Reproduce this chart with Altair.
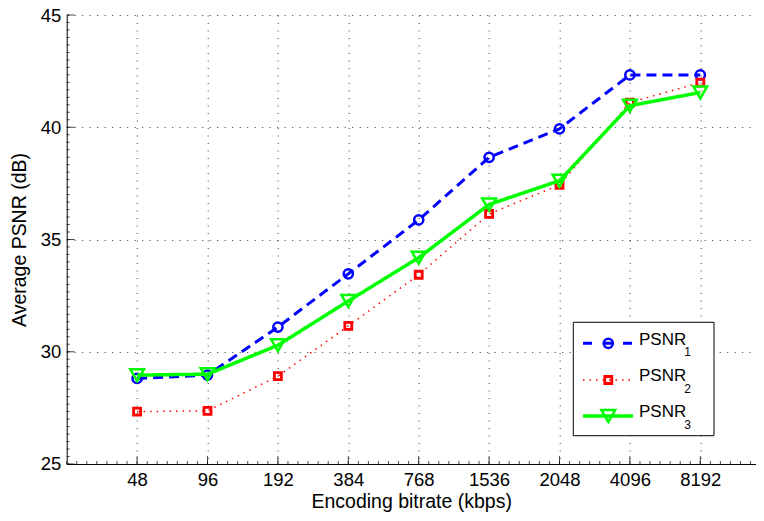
import json
import altair as alt
import pandas as pd

# ---- data ----
bitrates = ["48", "96", "192", "384", "768", "1536", "2048", "4096", "8192"]
psnr1 = [28.81, 28.96, 31.10, 33.47, 35.87, 38.66, 39.93, 42.33, 42.33]
psnr2 = [27.33, 27.37, 28.91, 31.15, 33.43, 36.14, 37.43, 41.10, 41.99]
psnr3 = [28.96, 29.00, 30.29, 32.26, 34.19, 36.56, 37.62, 40.96, 41.55]
series_names = ["PSNR", "PSNR", "PSNR"]
series_subs = ["1", "2", "3"]
y_major = [25, 30, 35, 40, 45]

FONT = "Liberation Sans"
PAD_L, PAD_T = 58.7, 7
W, H = 689, 449
XMAX = W / 70.4

idx = list(range(1, len(bitrates) + 1))

x_scale = alt.Scale(domain=[0, XMAX], nice=False, zero=False)
y_scale = alt.Scale(domain=[25, 45], nice=False, zero=False)

label_expr = json.dumps(bitrates) + "[datum.value - 1]"

x_axis = alt.Axis(values=idx, labelExpr=label_expr, title="Encoding bitrate (kbps)",
                  grid=True, ticks=False, tickSize=0, labelPadding=7,
                  labelFontSize=18.5, titleFontSize=19.5,
                  titleY=43.5, titleBaseline="alphabetic")
y_axis = alt.Axis(values=y_major, title="Average PSNR (dB)", grid=True, ticks=False,
                  tickSize=0, labelPadding=6, titlePadding=11,
                  labelFontSize=18.5, titleFontSize=19.5)


def xenc(field):
    return alt.X(field, type="quantitative", scale=x_scale, axis=x_axis)


def yenc(field):
    return alt.Y(field, type="quantitative", scale=y_scale, axis=y_axis)


styles = [
    dict(values=psnr1, color="#0000FF", dash=[10, 6], width=3, shape="circle", size=85,
         sw=2.5, legdash=[9, 11]),
    dict(values=psnr2, color="#FF0000", dash=[1.5, 5], width=1.5, shape="square", size=49,
         sw=2.8, legdash=[1.5, 5]),
    dict(values=psnr3, color="#00FF00", dash=[1, 0], width=3.5, shape="triangle-down", size=190,
         sw=2.5, legdash=[1, 0]),
]

layers = []

# inward axis ticks (decoration)
y_minor = [25 + k / 3 for k in range(0, 61)]
x_minor = [k / 7 for k in range(0, int(XMAX * 7) + 1)]
layers.append(alt.Chart(pd.DataFrame({"v": y_minor})).mark_tick(
    orient="horizontal", color="black", thickness=1).encode(
    y=yenc("v"), x=alt.value(1.5), size=alt.value(3)))
layers.append(alt.Chart(pd.DataFrame({"v": y_major})).mark_tick(
    orient="horizontal", color="black", thickness=1).encode(
    y=yenc("v"), x=alt.value(4), size=alt.value(8)))
layers.append(alt.Chart(pd.DataFrame({"v": x_minor})).mark_tick(
    orient="vertical", color="black", thickness=1).encode(
    x=xenc("v"), y=alt.value(H - 1.5), size=alt.value(3)))
layers.append(alt.Chart(pd.DataFrame({"v": idx})).mark_tick(
    orient="vertical", color="black", thickness=1).encode(
    x=xenc("v"), y=alt.value(H - 4), size=alt.value(8)))

# data series
for st in styles:
    df = pd.DataFrame({"i": idx, "v": st["values"]})
    base = alt.Chart(df)
    layers.append(base.mark_line(color=st["color"], strokeWidth=st["width"],
                                 strokeDash=st["dash"]).encode(x=xenc("i"), y=yenc("v")))
    layers.append(base.mark_point(shape=st["shape"], size=st["size"], filled=False,
                                  color=st["color"], strokeWidth=st["sw"], opacity=1).encode(
        x=xenc("i"), y=yenc("v")))

# manual legend (MATLAB style, with subscripts)
LX0, LX1, LY0, LY1 = 506.6, 647.3, 307.3, 420.7
row_y = [328.3, 365.0, 401.0]
one = pd.DataFrame({"a": [0]})
layers.append(alt.Chart(one).mark_rect(fill="white", stroke="black", strokeWidth=1).encode(
    x=alt.value(LX0), x2=alt.value(LX1), y=alt.value(LY0), y2=alt.value(LY1)))
for k, st in enumerate(styles):
    ry = row_y[k]
    layers.append(alt.Chart(one).mark_rule(color=st["color"], strokeWidth=st["width"],
                                           strokeDash=st["legdash"]).encode(
        x=alt.value(516.3), x2=alt.value(566.3), y=alt.value(ry)))
    layers.append(alt.Chart(one).mark_point(shape=st["shape"], size=st["size"], filled=False,
                                            color=st["color"], strokeWidth=st["sw"],
                                            opacity=1).encode(
        x=alt.value(541.6), y=alt.value(ry)))
    layers.append(alt.Chart(pd.DataFrame({"t": [series_names[k]]})).mark_text(
        align="left", baseline="middle", font=FONT, fontSize=17, color="black").encode(
        x=alt.value(572.3), y=alt.value(ry - 3.5), text="t:N"))
    layers.append(alt.Chart(pd.DataFrame({"t": [series_subs[k]]})).mark_text(
        align="left", baseline="alphabetic", font=FONT, fontSize=12, color="black").encode(
        x=alt.value(617.5), y=alt.value(ry + 13), text="t:N"))

chart = alt.layer(*layers).properties(
    width=W, height=H,
    padding={"left": PAD_L, "top": PAD_T, "right": 0, "bottom": 505 - PAD_T - H},
    autosize=alt.AutoSizeParams(type="none"),
    background="white",
).configure_view(stroke=None).configure_axis(
    labelFont=FONT, titleFont=FONT,
    labelColor="black", titleColor="black", titleFontWeight="normal",
    domainColor="black", domainWidth=1,
    gridColor="black", gridWidth=1, gridDash=[1, 6.5], gridOpacity=0.8,
)

chart.save("out.html", embed_options={"renderer": "svg", "actions": False})
